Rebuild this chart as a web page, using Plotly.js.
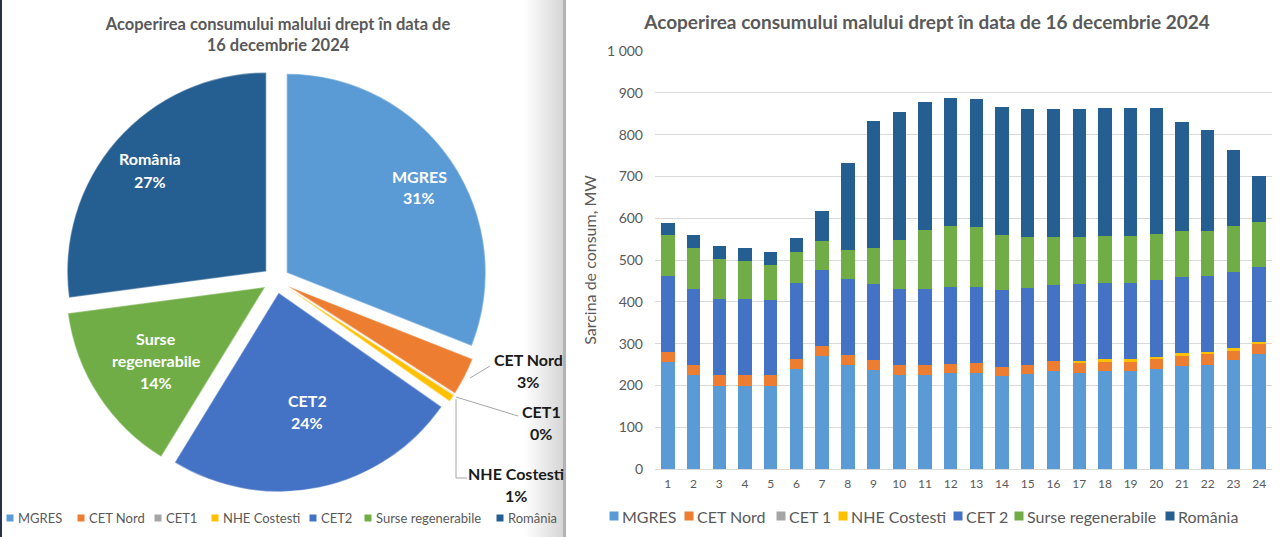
<!DOCTYPE html>
<html><head><meta charset="utf-8">
<script src="https://cdn.plot.ly/plotly-3.0.1.min.js"></script>
<style>
html,body{margin:0;padding:0;background:#fff;}
#wrap{position:relative;width:1280px;height:537px;overflow:hidden;background:#fff;}
#edge{position:absolute;left:0;top:0;width:2px;height:537px;background:#27314a;}
#shade{position:absolute;left:524px;top:0;width:39px;height:537px;background:linear-gradient(to right,#ffffff,#d6d6d6);}
#sep{position:absolute;left:563px;top:0;width:3px;height:537px;background:#b3b3b3;}
#pie{position:absolute;left:0;top:0;width:566px;height:537px;}
#bars{position:absolute;left:566px;top:0;width:714px;height:537px;}
</style></head>
<body><div id="wrap"><div id="edge"></div><div id="shade"></div><div id="sep"></div><div id="pie"></div><div id="bars"></div></div>
<script>
// ---------- DATA ----------
const chartTitle = 'Acoperirea consumului malului drept în data de 16 decembrie 2024';
const hours = [1,2,3,4,5,6,7,8,9,10,11,12,13,14,15,16,17,18,19,20,21,22,23,24];
const mgres            = [256,224,199,199,199,239,271,250,237,225,225,229,230,222,227,234,230,234,234,239,247,250,260,275];
const cetNord          = [25,25,25,25,25,24,23,23,23,23,23,23,23,22,23,24,25,23,23,24,24,24,23,24];
const cet1             = [0,0,0,0,0,0,0,0,0,0,0,0,0,0,0,0,0,0,0,0,0,0,0,0];
const nheCostesti      = [0,0,0,0,0,0,0,0,0,0,0,0,0,0,0,0,4,5,5,5,6,6,6,6];
const cet2             = [181,181,183,183,181,181,181,181,183,183,182,183,183,184,183,182,184,184,184,185,182,181,182,179];
const surseRegenerabile= [97,99,95,91,84,74,70,70,86,116,142,147,142,132,123,116,113,112,112,110,110,108,111,108];
const romania          = [29,30,32,31,29,35,73,209,304,308,305,305,306,306,305,305,305,305,306,300,261,241,182,108];
const barSeriesNames = ['MGRES','CET Nord','CET 1','NHE Costesti','CET 2','Surse regenerabile','România'];

const pieLabels = ['MGRES','CET Nord','CET1','NHE Costesti','CET2','Surse regenerabile','România'];
const pieShares = [31.1, 3.1, 0.05, 0.6, 24.1, 14.2, 27.2];

// ---------- STYLE ----------
const FONT = 'Lato, "Open Sans", "DejaVu Sans", sans-serif';
const GREY = '#595959';
const colors = ['#5B9BD5','#ED7D31','#A5A5A5','#FFC000','#4472C4','#70AD47','#255E91'];

// ---------- PIE (left) ----------
const PW = 566, PH = 537;
const px = x => x / PW, py = y => 1 - y / PH;
const pieCx = 276, pieCy = 280, pieR = 199, pull = 0.065;
const half = pieR * (1 + pull);

const pieTrace = {
  type: 'pie', labels: pieLabels, values: pieShares, sort: false,
  direction: 'clockwise', rotation: 0, pull: pull,
  marker: {colors: colors, line: {color: 'rgba(255,255,255,0.35)', width: 1.5}},
  textinfo: 'none', hoverinfo: 'label+percent', showlegend: false,
  domain: {x: [px(pieCx - half), px(pieCx + half)], y: [py(pieCy + half), py(pieCy - half)]}
};

const total = pieShares.reduce((a, b) => a + b, 0);
const labelPos = [[419,187,true],[528,370,false],[541,422,false],[516,484,false],[307,411,true],[156,360,true],[150,170,true]];
const pieAnn = [];
pieLabels.forEach((lab, i) => {
  const [cx, cy, inside] = labelPos[i];
  const nameLines = (inside && lab.length > 12) ? lab.split(' ') : [lab];
  const lines = nameLines.concat([Math.round(pieShares[i] / total * 100) + '%']);
  lines.forEach((t, k) => {
    pieAnn.push({
      text: t, x: px(cx), y: py(cy + (k - (lines.length - 1) / 2) * 22),
      xref: 'paper', yref: 'paper', xanchor: 'center', yanchor: 'middle', showarrow: false,
      font: {family: FONT, size: 16, weight: 700, color: inside ? '#ffffff' : '#1a1a1a'}
    });
  });
});
const leaderColor = '#a6a6a6';
const pieShapes = [
  [470,378,490,366],[456,397,518,416],[456,399,456,478],[456,478,467,478]
].map(s => ({type: 'line', xref: 'paper', yref: 'paper', x0: px(s[0]), y0: py(s[1]), x1: px(s[2]), y1: py(s[3]), line: {color: leaderColor, width: 1}}));

const leftLegendX = [10, 81, 158, 215, 313, 368, 500];
const leftLegendY = 518;
pieLabels.forEach((lab, i) => {
  const c = leftLegendX[i];
  pieShapes.push({type: 'rect', xref: 'paper', yref: 'paper', x0: px(c - 3.5), x1: px(c + 3.5), y0: py(leftLegendY + 3.5), y1: py(leftLegendY - 3.5), fillcolor: colors[i], line: {width: 0}});
  pieAnn.push({text: lab, x: px(c + 5.5), y: py(leftLegendY), xref: 'paper', yref: 'paper', xanchor: 'left', yanchor: 'middle', showarrow: false, font: {family: FONT, size: 13, color: GREY}});
});

const pieLayout = {
  width: PW, height: PH, margin: {l: 0, r: 0, t: 0, b: 0},
  paper_bgcolor: 'rgba(0,0,0,0)', plot_bgcolor: 'rgba(0,0,0,0)',
  font: {family: FONT, color: GREY},
  title: {text: 'Acoperirea consumului malului drept în data de<br>16 decembrie 2024',
    font: {family: FONT, size: 16.5, weight: 700, color: GREY},
    x: 278 / PW, xanchor: 'center', xref: 'container', y: 1 - 30 / PH, yanchor: 'middle', yref: 'container'},
  showlegend: false, annotations: pieAnn, shapes: pieShapes
};
Plotly.newPlot('pie', [pieTrace], pieLayout, {displayModeBar: false});

// ---------- STACKED BARS (right) ----------
const BW = 714, BH = 537, ML = 89, MR = 8, MT = 51, MB = 68;
const plotW = BW - ML - MR, plotH = BH - MT - MB;
const bx = x => (x - 566 - ML) / plotW, by = y => (BH - MB - y) / plotH;

const seriesValues = [mgres, cetNord, cet1, nheCostesti, cet2, surseRegenerabile, romania];
const barTraces = seriesValues.map((vals, i) => ({
  type: 'bar', x: hours, y: vals, name: barSeriesNames[i],
  marker: {color: colors[i], line: {width: 0}}, showlegend: false,
  hovertemplate: barSeriesNames[i] + ': %{y} MW<extra></extra>'
}));

const barAnn = [], barShapes = [];
const rightLegendX = [614, 689, 781, 843, 958, 1019, 1170];
const rightLegendY = 516;
barSeriesNames.forEach((nm, i) => {
  const c = rightLegendX[i];
  barShapes.push({type: 'rect', xref: 'paper', yref: 'paper', x0: bx(c - 4.5), x1: bx(c + 4.5), y0: by(rightLegendY + 4.5), y1: by(rightLegendY - 4.5), fillcolor: colors[i], line: {width: 0}});
  barAnn.push({text: nm, x: bx(c + 6), y: by(rightLegendY), xref: 'paper', yref: 'paper', xanchor: 'left', yanchor: 'middle', showarrow: false, font: {family: FONT, size: 16, color: GREY}});
});

const barLayout = {
  width: BW, height: BH, margin: {l: ML, r: MR, t: MT, b: MB},
  paper_bgcolor: '#ffffff', plot_bgcolor: '#ffffff',
  separators: ', ',
  font: {family: FONT, color: GREY},
  barmode: 'stack', bargap: 0.48,
  title: {text: chartTitle, font: {family: FONT, size: 19, weight: 700, color: GREY},
    x: (927 - 566) / BW, xanchor: 'center', xref: 'container', y: 1 - 22 / BH, yanchor: 'middle', yref: 'container'},
  xaxis: {range: [0.5, 24.5], tickmode: 'array', tickvals: hours, ticktext: hours.map(String),
    showgrid: false, zeroline: false, showline: false, ticks: '', tickfont: {size: 12, color: GREY}, ticklabelstandoff: 6, fixedrange: true},
  yaxis: {range: [0, 1000], tickmode: 'linear', tick0: 0, dtick: 100, separatethousands: true,
    showgrid: true, gridcolor: '#d9d9d9', gridwidth: 1, zeroline: true, zerolinecolor: '#d9d9d9', zerolinewidth: 1,
    showline: false, ticks: '', tickfont: {size: 14, color: GREY}, ticklabelstandoff: 11, fixedrange: true,
    title: {text: 'Sarcina de consum, MW', font: {size: 16, color: GREY}, standoff: 6}},
  showlegend: false, annotations: barAnn, shapes: barShapes
};
Plotly.newPlot('bars', barTraces, barLayout, {displayModeBar: false});
</script></body></html>
